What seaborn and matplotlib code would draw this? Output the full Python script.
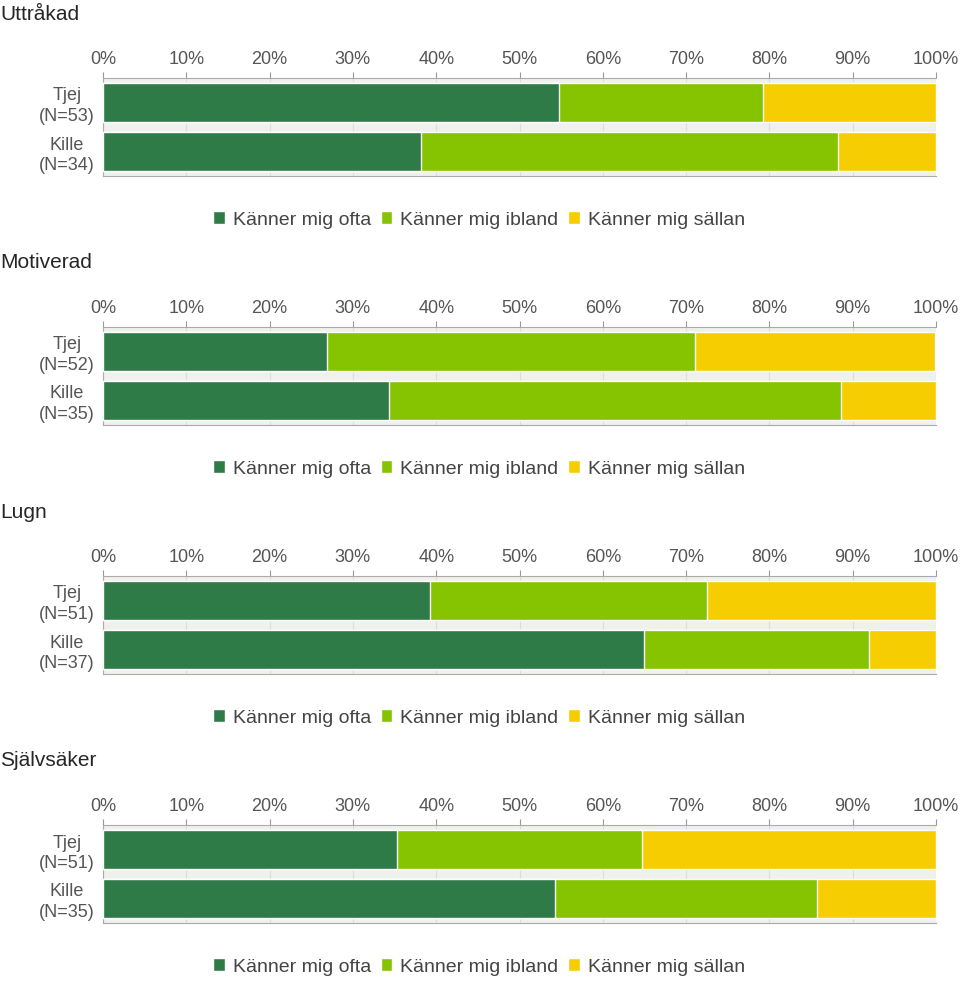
import numpy as np
import pandas as pd
import seaborn as sns
import matplotlib.pyplot as plt
from matplotlib.patches import Patch

sns.set_style("white")
plt.rcParams['font.family'] = ['Liberation Sans', 'DejaVu Sans']

# Data (percent of answers)
titles = ["Uttråkad", "Motiverad", "Lugn", "Självsäker"]
n_tjej = [53, 52, 51, 51]
n_kille = [34, 35, 37, 35]
ofta_tjej = [54.7, 26.9, 39.2, 35.3]
ibland_tjej = [24.5, 44.2, 33.3, 29.4]
sallan_tjej = [20.8, 28.8, 27.5, 35.3]
ofta_kille = [38.2, 34.3, 64.9, 54.3]
ibland_kille = [50.0, 54.3, 27.0, 31.4]
sallan_kille = [11.8, 11.4, 8.1, 14.3]

series = ["Känner mig ofta", "Känner mig ibland", "Känner mig sällan"]
colors = ["#2e7b47", "#86c300", "#f6cd00"]

W, H = 960, 981
fig = plt.figure(figsize=(W / 100, H / 100), dpi=100)

for i, title in enumerate(titles):
    off = i * 249
    labels = [f"Tjej\n(N={n_tjej[i]})", f"Kille\n(N={n_kille[i]})"]
    df = pd.DataFrame({
        "grupp": labels,
        "ofta": [ofta_tjej[i], ofta_kille[i]],
        "ibland": [ibland_tjej[i], ibland_kille[i]],
        "sallan": [sallan_tjej[i], sallan_kille[i]],
    })
    df["c2"] = df["ofta"] + df["ibland"]
    df["c3"] = df["c2"] + df["sallan"]

    ax = fig.add_axes([103 / W, 1 - (176 + off) / H, 833 / W, 98 / H])
    ax.set_facecolor("#eff1ed")
    for col, c in zip(["c3", "c2", "ofta"], colors[::-1]):
        sns.barplot(data=df, x=col, y="grupp", color=c, orient="h",
                    width=0.78, saturation=1, ax=ax, zorder=3)
    ax.set_xlim(0, 100)
    ax.set_ylim(1.5, -0.5)
    ax.set_xticks(np.arange(0, 101, 10))
    ax.set_xticklabels([f"{v}%" for v in range(0, 101, 10)])
    ax.xaxis.tick_top()
    ax.grid(axis="x", color="#dcdcdc", lw=0.8, zorder=0)
    ax.set_axisbelow(True)
    ax.tick_params(axis="x", top=True, length=4, color="#999999", labelsize=13,
                   labelcolor="#555555", pad=3)
    ax.tick_params(axis="y", length=0, labelsize=13, labelcolor="#555555", pad=6)
    for lab in ax.get_yticklabels():
        lab.set_multialignment("center")
        lab.set_linespacing(1.25)
    ax.set_xlabel("")
    ax.set_ylabel("")
    for s in ["top", "left", "bottom"]:
        ax.spines[s].set_color("#aaaaaa")
    ax.spines["right"].set_visible(False)

    fig.text(0, 1 - (14 + off) / H, title, fontsize=15, va="center", ha="left")

    handles = [Patch(facecolor=c, label=s) for c, s in zip(colors, series)]
    fig.legend(handles=handles, loc="center", bbox_to_anchor=(479 / W, 1 - (220 + off) / H),
               ncol=3, frameon=False, fontsize=14, handlelength=0.6, handleheight=0.6,
               handletextpad=0.4, columnspacing=0.5, labelcolor="#444444")

fig.savefig("out.png", dpi=100)
